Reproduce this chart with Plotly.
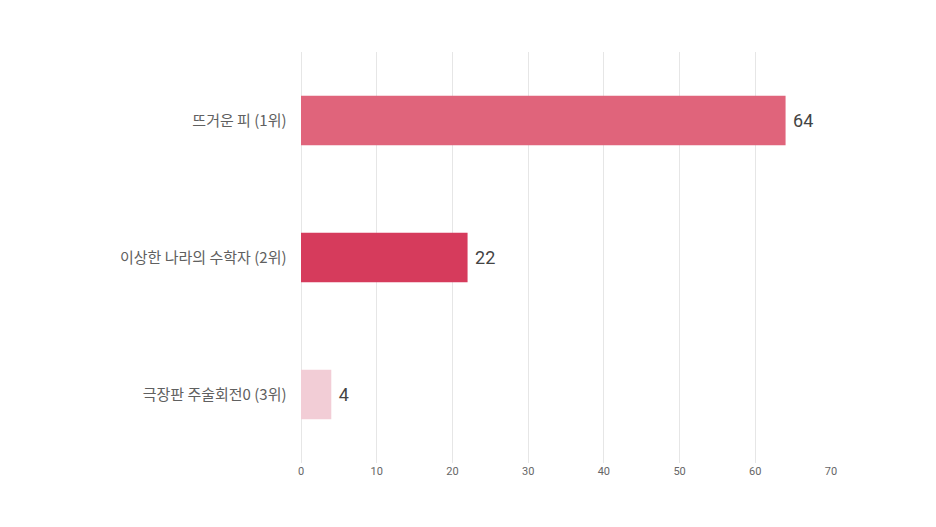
import plotly.graph_objects as go

categories = ["뜨거운 피 (1위)", "이상한 나라의 수학자 (2위)", "극장판 주술회전0 (3위)"]
values = [64, 22, 4]
colors = ["#E0647B", "#D63B5C", "#F2CDD6"]
tick_vals = [0, 10, 20, 30, 40, 50, 60, 70]

fig = go.Figure(go.Bar(
    x=values, y=categories, orientation="h",
    marker=dict(color=colors, line=dict(width=0)),
    width=0.36,
    text=[" " + str(v) for v in values], textposition="outside",
    textfont=dict(size=18, color="#444444", family="Roboto, Noto Sans CJK KR"),
    cliponaxis=False,
))
fig.update_layout(
    width=936, height=527,
    margin=dict(l=293, r=113, t=44, b=72),
    plot_bgcolor="white", paper_bgcolor="white",
    showlegend=False,
    font=dict(family="Roboto, Noto Sans CJK KR", color="#555555"),
    xaxis=dict(range=[0, 70], tickvals=tick_vals, showgrid=True, gridcolor="#E6E6E6",
               gridwidth=1, zeroline=True, zerolinecolor="#E6E6E6", zerolinewidth=1,
               showline=False, tickfont=dict(size=11, color="#666666")),
    yaxis=dict(autorange=False, range=[2.5, -0.5], categoryorder="array",
               categoryarray=categories, showgrid=False, ticks="",
               ticksuffix="    ", tickfont=dict(size=15, color="#606060",
               family="Noto Sans CJK KR")),
)
fig.write_html("out.html")
